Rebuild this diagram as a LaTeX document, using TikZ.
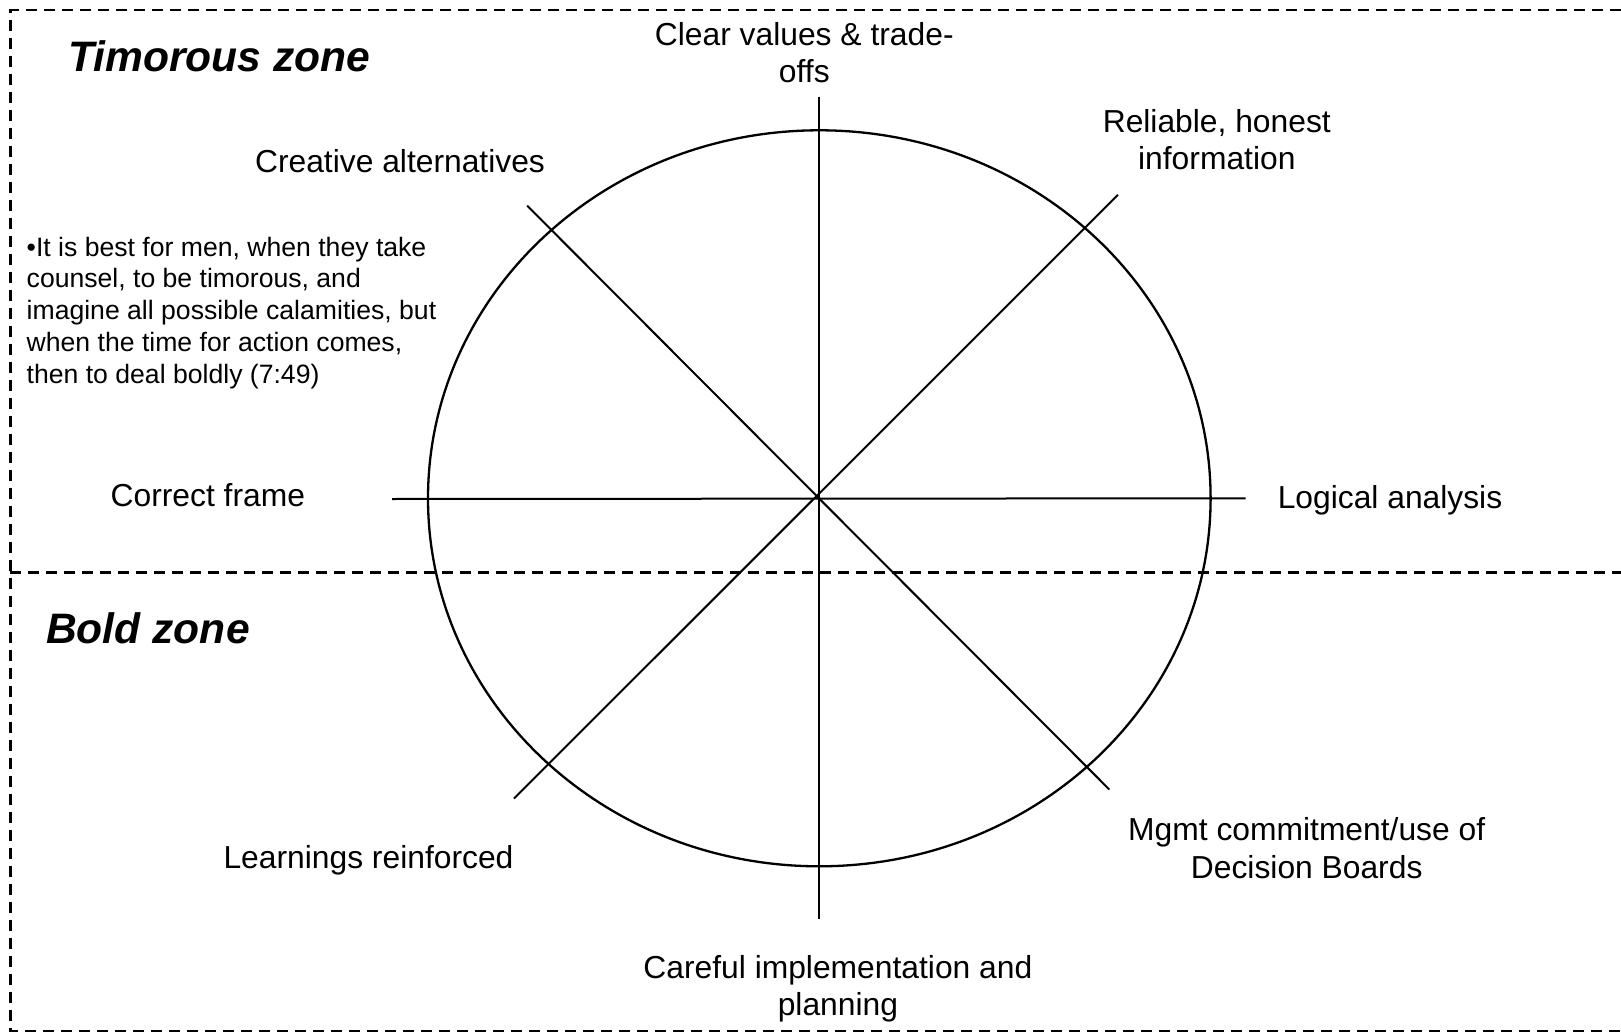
\documentclass[tikz,border=0pt]{standalone}
\usepackage{fontspec}
\setmainfont{Liberation Sans}
\begin{document}
\begin{tikzpicture}[x=1pt,y=-1pt,
  lbl/.style={font=\fontsize{31.8}{37.4}\selectfont, inner sep=0pt, align=center, anchor=base},
  zonetitle/.style={font=\fontsize{42.6}{48}\selectfont\bfseries\itshape, inner sep=0pt, anchor=base west},
  quotebox/.style={font=\fontsize{26.6}{31.9}\selectfont, inner sep=0pt, align=left, anchor=base west},
  zoneline/.style={line width=2.4pt, dash pattern=on 11pt off 7pt},
  spoke/.style={line width=2pt},
  rim/.style={line width=2.3pt}]
\useasboundingbox (0,0) rectangle (1621,1032);

% zone frame
\coordinate (tr) at (1621,10.3);
\coordinate (tl) at (10.3,10.3);
\coordinate (bl) at (10.3,1030.7);
\coordinate (br) at (1621,1030.7);
\coordinate (ml) at (10.3,572.5);
\coordinate (mr) at (1621,572.5);
\draw[zoneline] (tr) -- (tl) -- (bl) -- (br);
\draw[zoneline] (ml) -- (mr);

% wheel
\coordinate (c) at (819.3,498.3);
\draw[rim] (c) ellipse [x radius=391.3pt, y radius=368pt];
\coordinate (top) at (819,96.7);
\coordinate (bot) at (819,918.5);
\coordinate (lft) at (392,499);
\coordinate (rgt) at (1245.7,498.3);
\coordinate (nw) at (527.2,205.7);
\coordinate (se) at (1109.3,789.5);
\coordinate (ne) at (1118,194.8);
\coordinate (sw) at (514,798.5);
\draw[spoke] (top) -- (bot);
\draw[spoke] (lft) -- (rgt);
\draw[spoke] (nw) -- (se);
\draw[spoke] (ne) -- (sw);

% titles
\node[zonetitle] (timorous) at (68,71.7) {Timorous zone};
\node[zonetitle] (bold) at (46,643.3) {Bold zone};

% quote (anchor = baseline of last line)
\node[quotebox] (quote) at (26.5,383.6) {\textbullet It is best for men, when they take\\counsel, to be timorous, and\\imagine all possible calamities, but\\when the time for action comes,\\then to deal boldly (7:49)};

% labels (multi-line: anchor = baseline of last line)
\node[lbl] (clear) at (804.3,82.9) {Clear values \& trade-\\offs};
\node[lbl] (reliable) at (1216.8,169.8) {Reliable, honest\\information};
\node[lbl] (creative) at (400,172.7) {Creative alternatives};
\node[lbl] (frame) at (207.8,506.7) {Correct frame};
\node[lbl] (logic) at (1390,508.3) {Logical analysis};
\node[lbl] (learn) at (368.5,868.3) {Learnings reinforced};
\node[lbl] (mgmt) at (1306.7,878.1) {Mgmt commitment/use of\\Decision Boards};
\node[lbl] (careful) at (837.9,1015.4) {Careful implementation and\\planning};
\end{tikzpicture}
\end{document}
